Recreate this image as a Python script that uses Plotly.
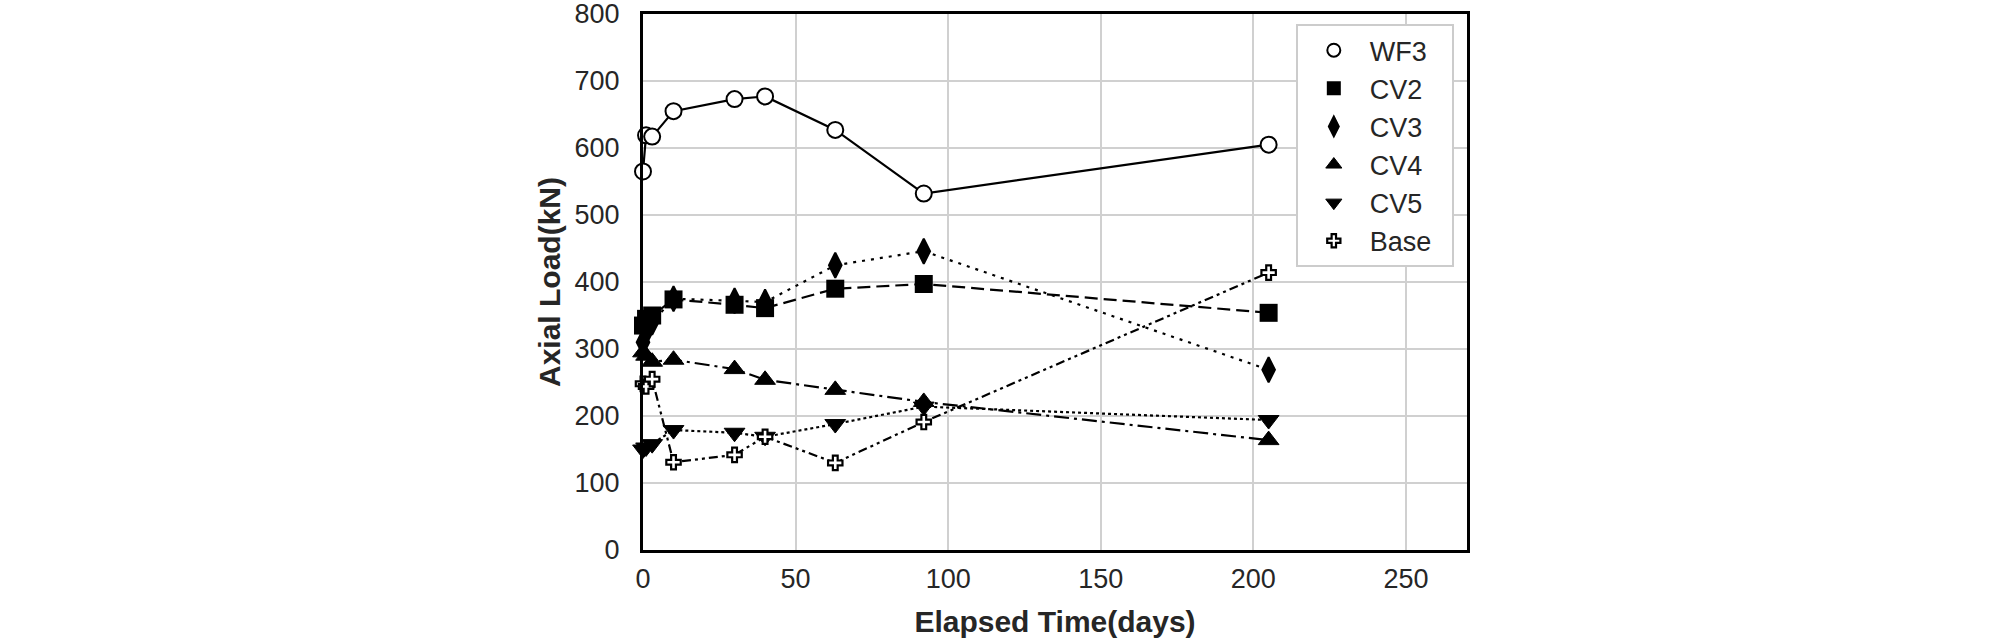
import plotly.graph_objects as go

days = [0, 1, 3, 10, 30, 40, 63, 92, 205]

wf3 = [565, 619, 617, 655, 673, 677, 627, 532, 605]
cv2 = [335, 345, 350, 374, 366, 361, 390, 397, 354]
cv3 = [310, 325, 340, 375, 372, 370, 425, 446, 269]
cv4 = [295, 290, 281, 284, 270, 254, 239, 221, 164]
cv5 = [150, 153, 158, 179, 175, 169, 188, 214, 194]
base = [248, 244, 255, 131, 142, 169, 130, 191, 414]

names = ["WF3", "CV2", "CV3", "CV4", "CV5", "Base"]
series = [wf3, cv2, cv3, cv4, cv5, base]

styles = [
    dict(symbol="circle", size=16, dash="solid", fill="white", lw=2),
    dict(symbol="square", size=18, dash="13px,6px", fill="black", lw=0),
    dict(symbol="diamond-tall", size=18, dash="3px,6px", fill="black", lw=2),
    dict(symbol="triangle-up", size=18, dash="15px,5px,3px,5px", fill="black", lw=1),
    dict(symbol="triangle-down", size=18, dash="3px,3px", fill="black", lw=1),
    dict(symbol="cross", size=12, dash="9px,4px,3px,4px,3px,4px", fill="white", lw=2.2),
]
legend_sizes = [13, 14, 15, 14, 14, 11]

fig = go.Figure()
for name, ys, st in zip(names, series, styles):
    fig.add_trace(go.Scatter(
        x=days, y=ys, mode="lines+markers", name=name, showlegend=False,
        line=dict(color="black", width=2.2, dash=st["dash"]),
        marker=dict(symbol=st["symbol"], size=st["size"], color=st["fill"],
                    line=dict(color="black", width=st["lw"])),
        cliponaxis=False,
    ))

# legend-only entries (markers only, as in the reference legend)
for name, st, ls in zip(names, styles, legend_sizes):
    fig.add_trace(go.Scatter(
        x=[None], y=[None], mode="markers", name=name + "\u00a0\u00a0",
        marker=dict(symbol=st["symbol"], size=ls, color=st["fill"],
                    line=dict(color="black", width=min(st["lw"], 1.5) if st["fill"] == "black" else st["lw"])),
        showlegend=True,
    ))

font_family = "Liberation Sans, Arial, sans-serif"

fig.update_layout(
    width=2008, height=640,
    margin=dict(l=643, r=541, t=14, b=90),
    plot_bgcolor="white", paper_bgcolor="white",
    font=dict(family=font_family, size=27, color="#262626"),
    legend=dict(
        x=0.984, y=0.981, xanchor="right", yanchor="top",
        bgcolor="white", bordercolor="#cccccc", borderwidth=2,
        font=dict(size=27, color="#262626"),
        itemwidth=62, tracegroupgap=0,
    ),
    xaxis=dict(
        range=[0, 270], tickvals=[0, 50, 100, 150, 200, 250],
        showgrid=True, gridcolor="#d0d0d0", gridwidth=2,
        showline=True, linecolor="black", linewidth=3, mirror=True,
        ticks="", zeroline=False, ticklabelstandoff=3, automargin=False,
        ticklabeloverflow="allow",
        tickfont=dict(size=27),
        title=dict(text="<b>Elapsed Time(days)</b>", standoff=18,
                   font=dict(size=30, color="#262626")),
    ),
    yaxis=dict(
        range=[0, 800], tickvals=[0, 100, 200, 300, 400, 500, 600, 700, 800],
        showgrid=True, gridcolor="#d0d0d0", gridwidth=2,
        showline=True, linecolor="black", linewidth=3, mirror=True,
        ticks="", zeroline=False, ticklabelstandoff=15, automargin=False,
        ticklabeloverflow="allow",
        tickfont=dict(size=27),
        title=dict(text="<b>Axial Load(kN)</b>", standoff=6,
                   font=dict(size=30, color="#262626")),
    ),
)

fig.write_html("out.html", config={"displayModeBar": False},
               post_script="document.body.style.margin='0';")
